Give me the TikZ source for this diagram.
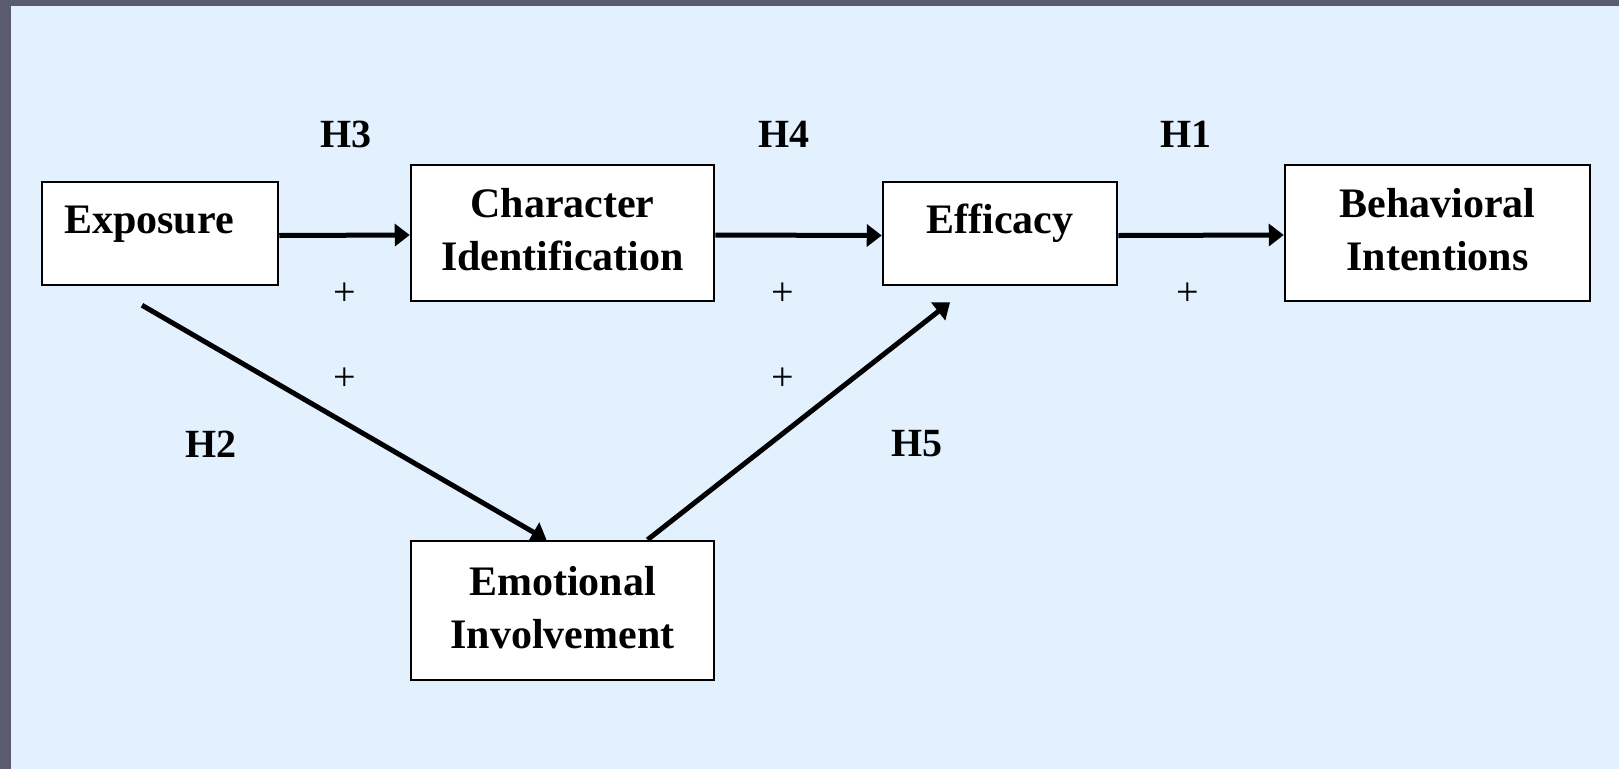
\documentclass[tikz,border=0pt]{standalone}
\usepackage{fontspec}
\setmainfont{Liberation Serif}
\usetikzlibrary{arrows.meta}
\definecolor{frame}{HTML}{5A5B6E}
\definecolor{paper}{HTML}{E3F1FF}
\begin{document}
\begin{tikzpicture}[x=1pt,y=-1pt,
    box/.style={draw, fill=white, line width=2.5pt, align=center, inner sep=0pt,
      font=\fontsize{42}{53}\selectfont\bfseries},
    twobox/.style={box, text depth=7pt},
    hyp/.style={inner sep=0pt, font=\fontsize{40}{48}\selectfont\bfseries},
    sign/.style={inner sep=0pt, font=\fontsize{40}{48}\selectfont},
    arr/.style={line width=5pt, -{Triangle[length=15pt,width=22pt]}}]
            % Background
            \fill[frame] (0,0) rectangle (1619,769);
            \fill[paper] (11,6) rectangle (1619,769);

            % Define nodes
            \node[box, minimum width=236pt, minimum height=103pt, text height=29pt, text depth=29pt] (exp) at (160,233.5) {Exposure\hspace{22pt}};
            \node[twobox, minimum width=303pt, minimum height=136pt] (chr) at (562.5,233) {Character\\Identification};
            \node[box, minimum width=234pt, minimum height=103pt, text height=29pt, text depth=29pt] (eff) at (1000,233.5) {Efficacy};
            \node[twobox, minimum width=305pt, minimum height=136pt] (beh) at (1437.5,233) {Behavioral\\Intentions};
            \node[twobox, minimum width=303pt, minimum height=139pt] (emo) at (562.5,610.5) {Emotional\\Involvement};

            % Hypothesis labels
            \node[hyp] (h3) at (346,134) {H3};
            \node[hyp] (h4) at (784,134) {H4};
            \node[hyp] (h1) at (1186,134) {H1};
            \node[hyp] (h2) at (211,444) {H2};
            \node[hyp] (h5) at (917,444) {H5};
            \node[sign] (p3) at (345,294) {+};
            \node[sign] (p4) at (783,294) {+};
            \node[sign] (p1) at (1188,294) {+};
            \node[sign] (p2) at (345,379) {+};
            \node[sign] (p5) at (783,379) {+};

            % Draw edges
            \draw[arr] ([yshift=-2pt]exp.east) -- ([yshift=-2pt]chr.west);
            \draw[arr] ([yshift=-2pt]chr.east) -- ([yshift=-2pt]eff.west);
            \draw[arr] ([yshift=-2pt]eff.east) -- ([yshift=-2pt]beh.west);
            \draw[arr] ([xshift=-18pt,yshift=-19pt]exp.south) -- ([xshift=-16pt]emo.north);
            \draw[arr] ([xshift=85pt]emo.north) -- ([xshift=-50pt,yshift=-16pt]eff.south);

        \end{tikzpicture}
\end{document}
